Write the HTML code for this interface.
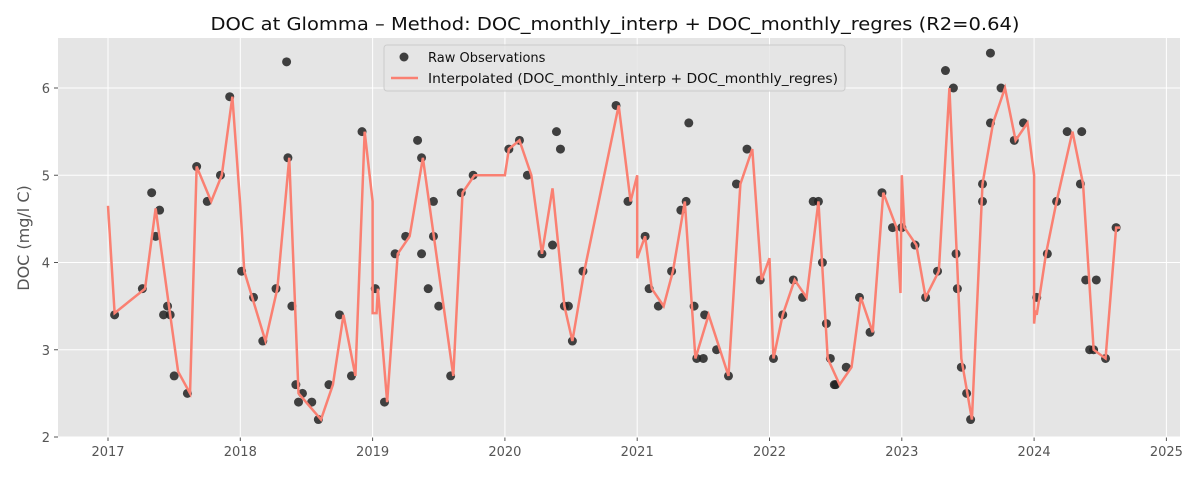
<!DOCTYPE html>
<html><head><meta charset="utf-8"><style>
body{margin:0;background:#fff;font-family:"DejaVu Sans","Liberation Sans",sans-serif}
</style></head><body>
<svg id="chart" width="1200" height="500" xmlns="http://www.w3.org/2000/svg" font-family="DejaVu Sans, Liberation Sans, sans-serif"></svg>
<script>
const obsYears=[2017.05,2017.26,2017.33,2017.36,2017.39,2017.42,2017.45,2017.47,2017.50,2017.60,2017.67,2017.75,2017.85,2017.92,2018.01,2018.10,2018.17,2018.27,2018.35,2018.36,2018.39,2018.42,2018.44,2018.47,2018.54,2018.59,2018.67,2018.75,2018.84,2018.92,2019.02,2019.09,2019.17,2019.25,2019.34,2019.37,2019.37,2019.42,2019.46,2019.46,2019.50,2019.59,2019.67,2019.76,2020.03,2020.11,2020.17,2020.28,2020.36,2020.39,2020.42,2020.45,2020.48,2020.51,2020.59,2020.84,2020.93,2021.06,2021.09,2021.16,2021.26,2021.33,2021.37,2021.39,2021.43,2021.45,2021.50,2021.51,2021.60,2021.69,2021.75,2021.83,2021.93,2022.03,2022.10,2022.18,2022.25,2022.33,2022.37,2022.40,2022.43,2022.46,2022.49,2022.50,2022.58,2022.68,2022.76,2022.85,2022.93,2023.00,2023.10,2023.18,2023.27,2023.33,2023.39,2023.41,2023.42,2023.45,2023.49,2023.52,2023.61,2023.61,2023.67,2023.67,2023.75,2023.85,2023.92,2024.02,2024.10,2024.17,2024.25,2024.35,2024.36,2024.39,2024.42,2024.45,2024.47,2024.54,2024.62];
const obsValues=[3.4,3.7,4.8,4.3,4.6,3.4,3.5,3.4,2.7,2.5,5.1,4.7,5.0,5.9,3.9,3.6,3.1,3.7,6.3,5.2,3.5,2.6,2.4,2.5,2.4,2.2,2.6,3.4,2.7,5.5,3.7,2.4,4.1,4.3,5.4,4.1,5.2,3.7,4.3,4.7,3.5,2.7,4.8,5.0,5.3,5.4,5.0,4.1,4.2,5.5,5.3,3.5,3.5,3.1,3.9,5.8,4.7,4.3,3.7,3.5,3.9,4.6,4.7,5.6,3.5,2.9,2.9,3.4,3.0,2.7,4.9,5.3,3.8,2.9,3.4,3.8,3.6,4.7,4.7,4.0,3.3,2.9,2.6,2.6,2.8,3.6,3.2,4.8,4.4,4.4,4.2,3.6,3.9,6.2,6.0,4.1,3.7,2.8,2.5,2.2,4.7,4.9,6.4,5.6,6.0,5.4,5.6,3.6,4.1,4.7,5.5,4.9,5.5,3.8,3.0,3.0,3.8,2.9,4.4];
const lineYears=[2017.0,2017.05,2017.28,2017.36,2017.47,2017.53,2017.62,2017.67,2017.78,2017.86,2017.94,2018.0,2018.03,2018.19,2018.28,2018.37,2018.44,2018.61,2018.70,2018.78,2018.87,2018.94,2019.0,2019.0,2019.03,2019.04,2019.11,2019.19,2019.28,2019.38,2019.61,2019.68,2019.77,2020.0,2020.03,2020.11,2020.20,2020.28,2020.36,2020.45,2020.51,2020.60,2020.86,2020.95,2021.0,2021.0,2021.06,2021.11,2021.20,2021.27,2021.36,2021.44,2021.54,2021.69,2021.78,2021.87,2021.94,2022.0,2022.03,2022.10,2022.19,2022.28,2022.37,2022.44,2022.53,2022.62,2022.69,2022.78,2022.86,2022.96,2022.99,2023.0,2023.02,2023.11,2023.18,2023.28,2023.36,2023.45,2023.53,2023.61,2023.69,2023.78,2023.86,2023.95,2024.0,2024.0,2024.01,2024.02,2024.09,2024.17,2024.29,2024.37,2024.45,2024.54,2024.62,2024.65];
const lineValues=[4.65,3.42,3.7,4.62,3.4,2.75,2.5,5.1,4.7,5.0,5.9,4.65,3.9,3.1,3.7,5.2,2.5,2.2,2.6,3.4,2.7,5.5,4.7,3.42,3.42,3.7,2.4,4.1,4.3,5.2,2.7,4.8,5.0,5.0,5.3,5.4,5.0,4.1,4.85,3.5,3.1,3.9,5.8,4.7,5.0,4.05,4.3,3.7,3.5,3.9,4.7,2.9,3.4,2.7,4.9,5.3,3.8,4.05,2.9,3.4,3.8,3.6,4.7,2.9,2.6,2.8,3.6,3.2,4.8,4.4,3.65,5.0,4.4,4.2,3.6,3.9,6.0,2.9,2.2,4.9,5.6,6.0,5.4,5.6,5.0,3.3,3.45,3.4,4.1,4.7,5.5,4.9,3.0,2.9,4.4,4.4];
const xTicks=[2017,2018,2019,2020,2021,2022,2023,2024,2025];
const yTicks=[2,3,4,5,6];

const NS="http://www.w3.org/2000/svg";
const svg=document.getElementById('chart');
const L=58,R=1180,T=38,B=437;
const xs=y=>108+(y-2017)*132.3;
const ys=v=>437-(v-2)*87.25;
function mk(tag,attrs,parent){const e=document.createElementNS(NS,tag);for(const k in attrs)e.setAttribute(k,attrs[k]);(parent||svg).appendChild(e);return e;}

const bg=mk('rect',{x:L,y:T,width:R-L,height:B-T,fill:'#e5e5e5'});



xTicks.forEach(t=>{
  const g=mk('line',{x1:xs(t),x2:xs(t),y1:T,y2:B,stroke:'#fff','stroke-width':1});
  
  
  const tk=mk('line',{x1:xs(t),x2:xs(t),y1:B,y2:B+4,stroke:'#555'});
  
  
  const lb=mk('text',{x:xs(t),y:B+19,'text-anchor':'middle','font-size':13,fill:'#555'});
  lb.textContent=t;
  
  
});
yTicks.forEach(t=>{
  const g=mk('line',{x1:L,x2:R,y1:ys(t),y2:ys(t),stroke:'#fff','stroke-width':1});
  
  
  const tk=mk('line',{x1:L-4,x2:L,y1:ys(t),y2:ys(t),stroke:'#555'});
  
  
  const lb=mk('text',{x:L-8,y:ys(t)+5,'text-anchor':'end','font-size':13,fill:'#555'});
  lb.textContent=t;
  
  
});

obsYears.forEach((yr,i)=>{
  const c=mk('circle',{cx:xs(yr),cy:ys(obsValues[i]),r:4.5,fill:'#222','fill-opacity':0.85});
  
  
});

const pl=mk('polyline',{points:lineYears.map((yr,i)=>xs(yr)+','+ys(lineValues[i])).join(' '),fill:'none',stroke:'#fa8072','stroke-width':2.5,'stroke-linejoin':'miter'});



const title=mk('text',{x:615,y:30,'text-anchor':'middle','font-size':18,fill:'#111',textLength:809,lengthAdjust:'spacingAndGlyphs'});
title.textContent='DOC at Glomma – Method: DOC_monthly_interp + DOC_monthly_regres (R2=0.64)';



const yl=mk('text',{x:0,y:0,'text-anchor':'middle','font-size':16,fill:'#555',transform:'translate(29,238) rotate(-90)'});
yl.textContent='DOC (mg/l C)';



const lg=mk('g',{});


mk('rect',{x:384,y:45,width:461,height:46,rx:3,fill:'#e5e5e5',stroke:'#ccc','fill-opacity':0.8},lg);
const e1=mk('circle',{cx:404,cy:57,r:4.5,fill:'#222','fill-opacity':0.85},lg);


const t1=mk('text',{x:428,y:62,'font-size':13,fill:'#111'},lg);
t1.textContent='Raw Observations';


const e2=mk('line',{x1:391,x2:418,y1:78,y2:78,stroke:'#fa8072','stroke-width':2.5},lg);


const t2=mk('text',{x:428,y:83,'font-size':13,fill:'#111',textLength:410,lengthAdjust:'spacingAndGlyphs'},lg);
t2.textContent='Interpolated (DOC_monthly_interp + DOC_monthly_regres)';


</script>
</body></html>
